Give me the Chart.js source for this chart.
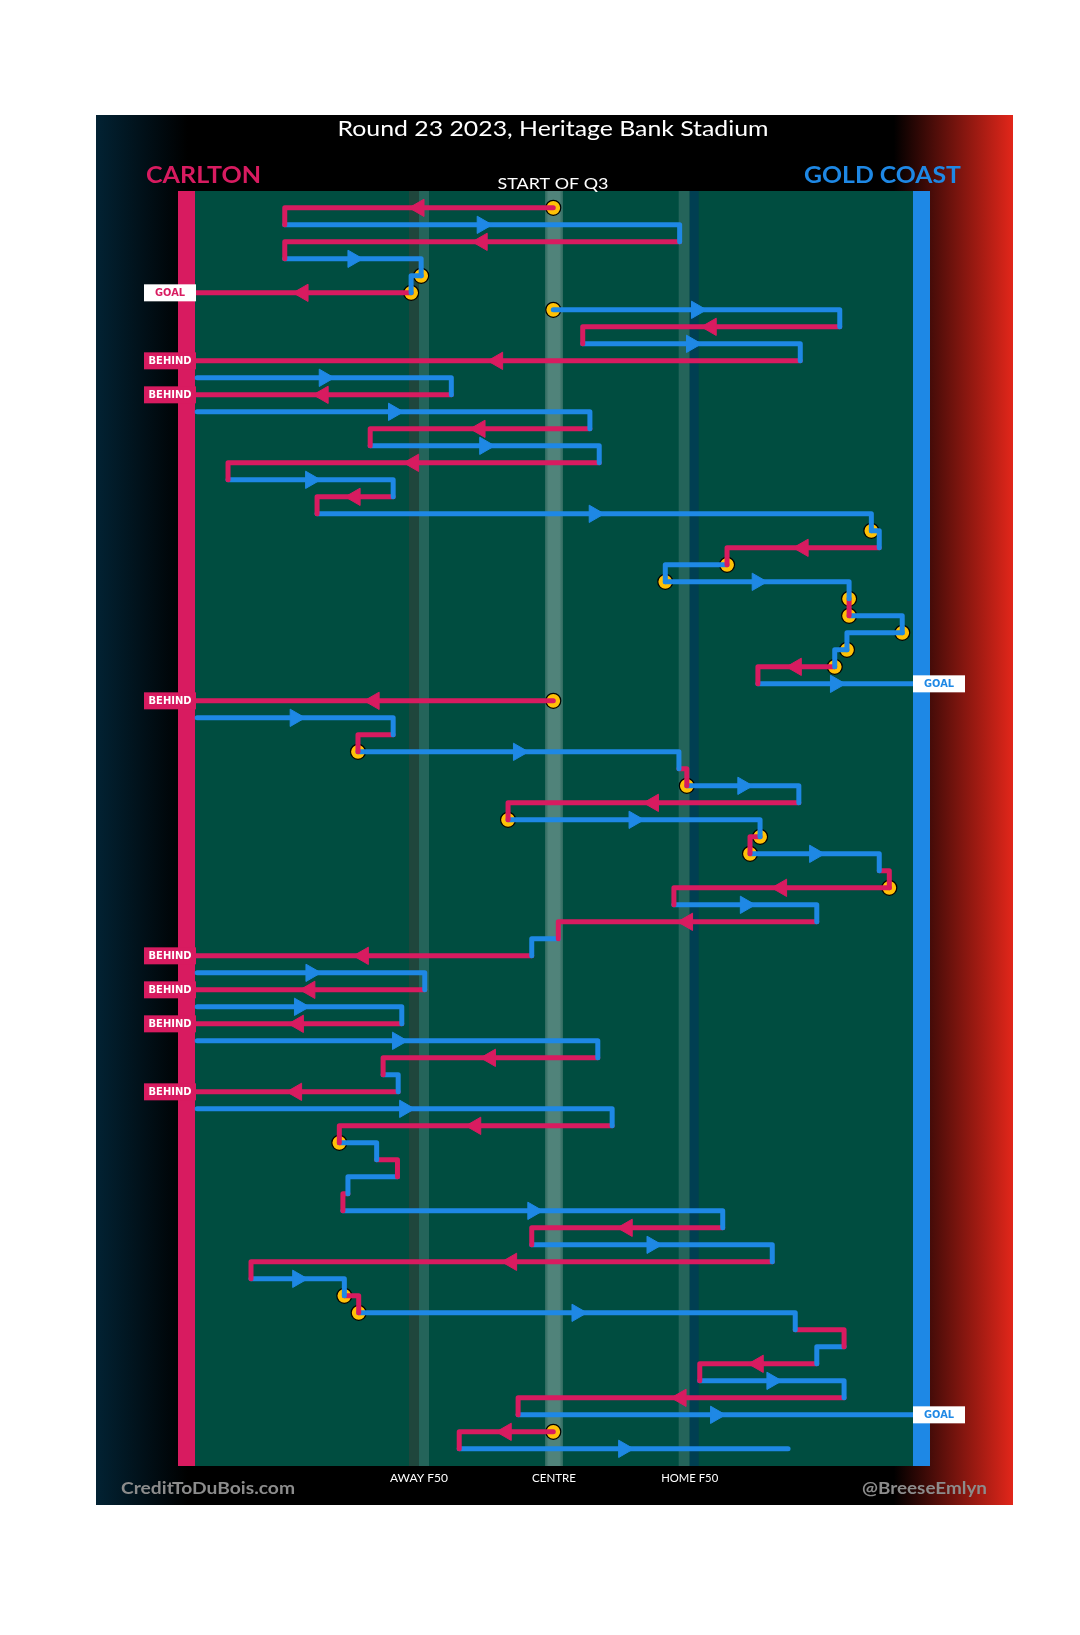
<!DOCTYPE html>
<html>
<head>
<meta charset="utf-8">
<title>Round 23 2023, Heritage Bank Stadium</title>
<script src="https://cdn.jsdelivr.net/npm/chart.js@4.4.0/dist/chart.umd.min.js"></script>
<style>
  html, body { margin: 0; padding: 0; background: #fff; }
</style>
</head>
<body>
<canvas id="chart" width="1080" height="1635"></canvas>
<script>
// x = ground position, 0 = Carlton goal line, 100 = Gold Coast goal line
// one entry per possession row, top to bottom (C = Carlton, G = Gold Coast)
const rowTeam = [
  'C','G','C','G','G','C','G','C','G','C',
  'G','C','G','C','G','C','G','C','G','G',
  'C','G','G','C','G','G','G','C','G','C',
  'G','C','G','C','G','C','G','C','G','C',
  'C','G','C','G','C','G','C','G','C','G',
  'C','G','C','G','C','G','C','G','C','G',
  'C','G','C','G','C','G','C','G','C','G',
  'C','G','C','G'
];
const rowStart = [
  49.9, 12.5, 67.5, 12.5, 31.5, 30.1, 49.9, 89.8, 54.0, 84.3,
  0.3, 35.7, 0.3, 55.0, 24.4, 56.3, 4.6, 27.6, 17.0, 94.2,
  95.3, 74.1, 65.5, 91.1, 91.1, 98.5, 90.8, 89.1, 78.4, 49.9,
  0.3, 27.6, 22.7, 67.4, 68.5, 84.1, 43.6, 78.7, 77.3, 95.3,
  96.7, 66.7, 86.6, 50.6, 46.9, 0.3, 32.0, 0.3, 28.8, 0.3,
  56.1, 26.2, 28.3, 0.3, 58.1, 20.1, 25.3, 28.2, 21.3, 20.6,
  73.5, 46.9, 80.4, 7.8, 20.8, 22.8, 83.6, 90.4, 86.6, 70.3,
  90.4, 45.0, 49.9, 36.8
];
const rowEnd = [
  12.5, 67.5, 12.5, 31.5, 30.1, 0, 89.8, 54.0, 84.3, 0,
  35.7, 0, 55.0, 24.4, 56.3, 4.6, 27.6, 17.0, 94.2, 95.3,
  74.1, 65.5, 91.1, 91.1, 98.5, 90.8, 89.1, 78.4, 100, 0,
  27.6, 22.7, 67.4, 68.5, 84.1, 43.6, 78.7, 77.3, 95.3, 96.7,
  66.7, 86.6, 50.6, 46.9, 0, 32.0, 0, 28.8, 0, 56.1,
  26.2, 28.3, 0, 58.1, 20.1, 25.3, 28.2, 21.3, 20.6, 73.5,
  46.9, 80.4, 7.8, 20.8, 22.8, 83.6, 90.4, 86.6, 70.3, 90.4,
  45.0, 100, 36.8, 82.6
];
// rows that begin at a stoppage / contest
const stoppageRows = [0, 4, 5, 6, 19, 21, 22, 23, 24, 25, 26, 27, 29, 32, 34, 36, 37, 38, 40, 55, 64, 65, 72];
const goalRows = [5, 28, 71];
const behindRows = [9, 11, 29, 44, 46, 48, 52];
const zoneTicks = [31.2, 50, 68.9];
const zoneLabels = ['AWAY F50', 'CENTRE', 'HOME F50'];

const PINK = '#d81b60';
const BLUE = '#1e88e5';
const teamColour = t => (t === 'C' ? PINK : BLUE);

// one dataset per row: across, then down to the next row if the chain carries on
const rowSets = rowTeam.map((t, i) => {
  const pts = [{x: rowStart[i], y: i}, {x: rowEnd[i], y: i}];
  if (i + 1 < rowTeam.length && rowStart[i + 1] === rowEnd[i]) pts.push({x: rowEnd[i], y: i + 1});
  return {
    data: pts,
    showLine: true,
    borderColor: teamColour(t),
    borderWidth: 5,
    borderCapStyle: 'round',
    borderJoinStyle: 'round',
    pointRadius: 0,
    tension: 0,
    clip: false,
    order: 1
  };
});

const arrowRows = rowTeam.map((t, i) => i).filter(i => Math.abs(rowEnd[i] - rowStart[i]) >= 10);
const arrowSet = {
  data: arrowRows.map(i => ({x: (rowStart[i] + rowEnd[i]) / 2, y: i})),
  pointStyle: 'triangle',
  pointRadius: 10,
  pointRotation: arrowRows.map(i => (rowEnd[i] > rowStart[i] ? 90 : -90)),
  pointBackgroundColor: arrowRows.map(i => teamColour(rowTeam[i])),
  pointBorderColor: arrowRows.map(i => teamColour(rowTeam[i])),
  pointBorderWidth: 1,
  showLine: false,
  clip: false,
  order: 0
};

const stoppageSet = {
  data: stoppageRows.map(i => ({x: rowStart[i], y: i})),
  pointStyle: 'circle',
  pointRadius: 7.5,
  pointBackgroundColor: '#ffc107',
  pointBorderColor: '#000',
  pointBorderWidth: 1.2,
  showLine: false,
  clip: false,
  order: 2
};

function fitText(ctx, text, x, y, width, align) {
  const w = ctx.measureText(text).width;
  const k = width / w;
  ctx.save();
  ctx.translate(x, y);
  ctx.scale(k, 1);
  ctx.textAlign = align;
  ctx.fillText(text, 0, 0);
  ctx.restore();
}

const backdrop = {
  id: 'backdrop',
  beforeDraw(chart) {
    const {ctx, chartArea: a, scales: {x}} = chart;
    ctx.save();
    ctx.fillStyle = '#fff';
    ctx.fillRect(0, 0, chart.width, chart.height);

    const g = ctx.createLinearGradient(96, 0, 1013, 0);
    g.addColorStop(0, '#022233');
    g.addColorStop(0.1, '#000');
    g.addColorStop(0.87, '#000');
    g.addColorStop(1, '#e2261a');
    ctx.fillStyle = g;
    ctx.fillRect(96, 115, 917, 1390);

    ctx.fillStyle = '#004d40';
    ctx.fillRect(a.left, a.top, a.right - a.left, a.bottom - a.top);

    // F50 and centre bands
    const away = x.getPixelForValue(zoneTicks[0]);
    const mid = x.getPixelForValue(zoneTicks[1]);
    const home = x.getPixelForValue(zoneTicks[2]);
    const h = a.bottom - a.top;
    ctx.fillStyle = '#1f463c'; ctx.fillRect(away - 10, a.top, 10, h);
    ctx.fillStyle = '#24645a'; ctx.fillRect(away, a.top, 10, h);
    const cg = ctx.createLinearGradient(mid - 9, 0, mid + 9, 0);
    cg.addColorStop(0, '#2f6a5f');
    cg.addColorStop(0.2, '#50837a');
    cg.addColorStop(0.8, '#50837a');
    cg.addColorStop(1, '#2f6a5f');
    ctx.fillStyle = cg; ctx.fillRect(mid - 9, a.top, 18, h);
    ctx.fillStyle = '#24645a'; ctx.fillRect(home - 11, a.top, 11, h);
    ctx.fillStyle = '#003f52'; ctx.fillRect(home, a.top, 9, h);

    // goal lines
    ctx.fillStyle = PINK; ctx.fillRect(a.left - 17, a.top, 17, h);
    ctx.fillStyle = BLUE; ctx.fillRect(a.right, a.top, 17, h);

    // headings
    ctx.textBaseline = 'alphabetic';
    ctx.fillStyle = '#fff';
    ctx.font = '22px Lato';
    fitText(ctx, 'Round 23 2023, Heritage Bank Stadium', 553, 136, 431, 'center');
    ctx.font = 'bold 23px Lato';
    ctx.fillStyle = PINK;
    fitText(ctx, 'CARLTON', 146, 183, 115, 'left');
    ctx.fillStyle = BLUE;
    fitText(ctx, 'GOLD COAST', 961, 183, 157, 'right');
    ctx.fillStyle = '#fff';
    ctx.font = '15px Lato';
    fitText(ctx, 'START OF Q3', 553, 189, 111, 'center');

    ctx.font = '12px Lato';
    const tw = [58, 44, 57];
    zoneTicks.forEach((v, k) => fitText(ctx, zoneLabels[k], x.getPixelForValue(v), 1482, tw[k], 'center'));

    ctx.fillStyle = '#8c8c8c';
    ctx.font = 'bold 17px Lato';
    fitText(ctx, 'CreditToDuBois.com', 121, 1494, 174, 'left');
    fitText(ctx, '@BreeseEmlyn', 987, 1494, 125, 'right');
    ctx.restore();
  },
  afterDatasetsDraw(chart) {
    const {ctx, chartArea: a, scales: {y}} = chart;
    ctx.save();
    ctx.textBaseline = 'middle';
    ctx.textAlign = 'center';
    ctx.font = 'bold 10px "DejaVu Sans"';
    const tag = (text, left, row, bg, fg) => {
      const py = y.getPixelForValue(row);
      ctx.fillStyle = bg;
      ctx.fillRect(left, py - 8.5, 52, 17);
      ctx.fillStyle = fg;
      fitText(ctx, text, left + 26, py + 1, text === 'GOAL' ? 30 : 43, 'center');
    };
    goalRows.forEach(r => {
      if (rowEnd[r] === 0) tag('GOAL', a.left - 51, r, '#fff', PINK);
      else tag('GOAL', a.right, r, '#fff', BLUE);
    });
    behindRows.forEach(r => tag('BEHIND', a.left - 51, r, PINK, '#fff'));
    ctx.restore();
  }
};

new Chart(document.getElementById('chart'), {
  type: 'scatter',
  data: { datasets: [...rowSets, arrowSet, stoppageSet] },
  options: {
    responsive: false,
    devicePixelRatio: 1,
    animation: false,
    events: [],
    layout: { padding: { left: 195, right: 167, top: 191, bottom: 169 } },
    plugins: { legend: { display: false }, tooltip: { enabled: false } },
    scales: {
      x: { type: 'linear', min: 0, max: 100, display: false },
      y: { type: 'linear', min: -0.99, max: 74.01, reverse: true, display: false }
    }
  },
  plugins: [backdrop]
});
</script>
</body>
</html>
